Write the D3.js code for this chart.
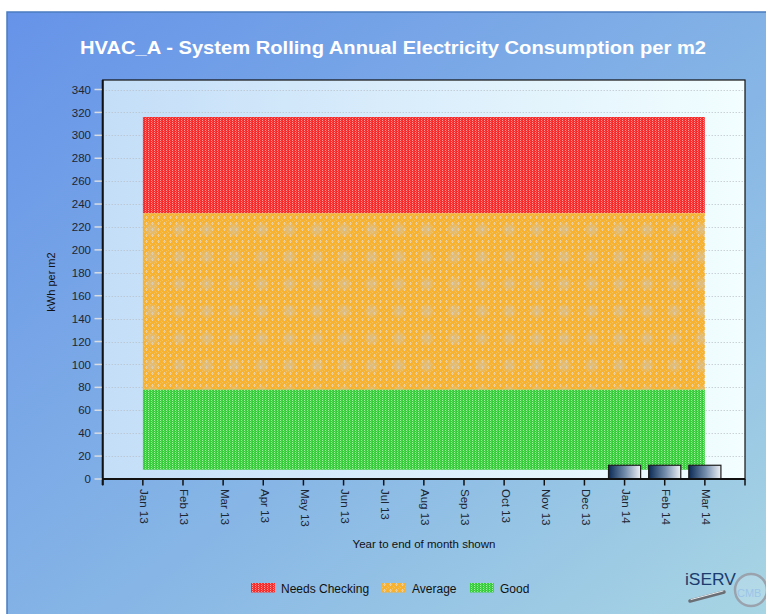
<!DOCTYPE html>
<html>
<head>
<meta charset="utf-8">
<script src="https://cdn.jsdelivr.net/npm/d3@7"></script>
<style>
  html, body { margin: 0; padding: 0; background: #fff; }
  svg { display: block; font-family: "Liberation Sans", Arial, sans-serif; }
</style>
</head>
<body>
<svg id="chart" width="766" height="614"></svg>
<script>
// months on the x axis
const months = ['Jan 13', 'Feb 13', 'Mar 13', 'Apr 13', 'May 13', 'Jun 13', 'Jul 13',
  'Aug 13', 'Sep 13', 'Oct 13', 'Nov 13', 'Dec 13', 'Jan 14', 'Feb 14', 'Mar 14']

// benchmark bands (kWh per m2), one value per month
const goodLow   = [8, 8, 8, 8, 8, 8, 8, 8, 8, 8, 8, 8, 8, 8, 8]
const goodHigh  = [78, 78, 78, 78, 78, 78, 78, 78, 78, 78, 78, 78, 78, 78, 78]
const avgHigh   = [232, 232, 232, 232, 232, 232, 232, 232, 232, 232, 232, 232, 232, 232, 232]
const needsHigh = [316, 316, 316, 316, 316, 316, 316, 316, 316, 316, 316, 316, 316, 316, 316]

// actual rolling consumption (null = no data)
const consumption = [null, null, null, null, null, null, null, null, null, null, null, null, 12, 12, 12]

const yTicks = d3.range(0, 341, 20)

const legendItems = [
  { name: 'Needs Checking', fill: 'url(#patRed)' },
  { name: 'Average', fill: 'url(#patOrange)' },
  { name: 'Good', fill: 'url(#patGreen)' }
]

const svg = d3.select('#chart')
const defs = svg.append('defs')

// background gradients
const bgGrad = defs.append('linearGradient').attr('id', 'bgGrad')
  .attr('x1', 0).attr('y1', 0).attr('x2', 1).attr('y2', 1)
bgGrad.append('stop').attr('offset', 0).attr('stop-color', '#6693e8')
bgGrad.append('stop').attr('offset', 0.55).attr('stop-color', '#86b5e6')
bgGrad.append('stop').attr('offset', 1).attr('stop-color', '#a9d6e3')

const plotGrad = defs.append('linearGradient').attr('id', 'plotGrad')
  .attr('x1', 0).attr('y1', 0).attr('x2', 1).attr('y2', 0)
plotGrad.append('stop').attr('offset', 0).attr('stop-color', '#c4def8')
plotGrad.append('stop').attr('offset', 1).attr('stop-color', '#f2feff')

const barGrad = defs.append('linearGradient').attr('id', 'barGrad')
  .attr('x1', 0).attr('y1', 0).attr('x2', 1).attr('y2', 0)
barGrad.append('stop').attr('offset', 0).attr('stop-color', '#0b2a55')
barGrad.append('stop').attr('offset', 0.5).attr('stop-color', '#6f89a8')
barGrad.append('stop').attr('offset', 1).attr('stop-color', '#eef1f5')

const blobGrad = defs.append('radialGradient').attr('id', 'blobGrad')
blobGrad.append('stop').attr('offset', 0).attr('stop-color', '#c8c8c8').attr('stop-opacity', 0.55)
blobGrad.append('stop').attr('offset', 0.6).attr('stop-color', '#cccac4').attr('stop-opacity', 0.3)
blobGrad.append('stop').attr('offset', 1).attr('stop-color', '#cccac4').attr('stop-opacity', 0)

// dotted hatch patterns
const makePattern = (id, w, h, base, dots) => {
  const p = defs.append('pattern').attr('id', id)
    .attr('patternUnits', 'userSpaceOnUse').attr('width', w).attr('height', h)
  if (base) p.append('rect').attr('width', w).attr('height', h).attr('fill', base)
  dots.forEach(d => p.append('rect').attr('x', d[0]).attr('y', d[1])
    .attr('width', d[2] || 1).attr('height', d[3] || 1).attr('fill', d[4]))
  return p
}
makePattern('patRed', 3, 2, '#f82a2a', [[1, 0, 1, 1, '#ff9c9c'], [2, 1, 1, 1, '#ff5454']])
makePattern('patGreen', 3, 2, '#36cc3a', [[1, 0, 1, 1, '#a6eea6'], [2, 1, 1, 1, '#5ada5c']])
makePattern('patOrange', 6, 6, '#f8b232', [
  [2, 0, 1, 1, '#e8d4ae'], [1, 1, 3, 1, '#ecc98a'], [2, 2, 1, 1, '#e8d4ae'],
  [5, 3, 1, 1, '#e6be78'], [0, 4, 1, 1, '#f4c35e'], [4, 5, 1, 1, '#f4c35e']
])
// larger mottled blobs seen in the orange band
const blobs = defs.append('pattern').attr('id', 'patBlobs')
  .attr('patternUnits', 'userSpaceOnUse').attr('width', 27.5).attr('height', 27.2)
  .attr('x', 138).attr('y', 216)
blobs.append('circle').attr('cx', 13.75).attr('cy', 13.6).attr('r', 8).attr('fill', 'url(#blobGrad)')

// outer panel
svg.append('rect').attr('x', 7).attr('y', 12).attr('width', 766).attr('height', 610)
  .attr('fill', 'url(#bgGrad)').attr('stroke', '#4a7cc0').attr('stroke-width', 1.5)

// title
svg.append('text')
  .attr('x', 393).attr('y', 54)
  .attr('text-anchor', 'middle')
  .attr('fill', '#fff')
  .attr('font-size', 18).attr('font-weight', 'bold')
  .attr('textLength', 626).attr('lengthAdjust', 'spacingAndGlyphs')
  .text('HVAC_A - System Rolling Annual Electricity Consumption per m2')

// plot area
const plotL = 102.7, plotR = 745, plotT = 80, plotB = 479

const x = d3.scaleLinear().domain([0, months.length + 1]).range([plotL, plotR])
const y = d3.scaleLinear().domain([0, 340]).range([plotB, 89.5])

svg.append('rect').attr('x', plotL).attr('y', plotT)
  .attr('width', plotR - plotL).attr('height', plotB - plotT)
  .attr('fill', 'url(#plotGrad)')

// gridlines
svg.append('g').selectAll('line').data(yTicks.filter(d => d > 0)).enter().append('line')
  .attr('x1', plotL).attr('x2', plotR)
  .attr('y1', d => Math.round(y(d)) + 0.5).attr('y2', d => Math.round(y(d)) + 0.5)
  .attr('stroke', '#b8bec6').attr('stroke-dasharray', '1,2')

// bands
const idx = months.map((m, i) => i)
const band = (lo, hi) => d3.area()
  .x(i => x(i + 1))
  .y0(i => y(lo[i]))
  .y1(i => y(hi[i]))(idx)

svg.append('path').attr('d', band(avgHigh, needsHigh)).attr('fill', 'url(#patRed)')
svg.append('path').attr('d', band(goodHigh, avgHigh)).attr('fill', 'url(#patOrange)')
svg.append('path').attr('d', band(goodHigh, avgHigh)).attr('fill', 'url(#patBlobs)')
svg.append('path').attr('d', band(goodLow, goodHigh)).attr('fill', 'url(#patGreen)')

// consumption bars
const barW = 0.8 * (x(1) - x(0))
svg.append('g').selectAll('rect')
  .data(consumption.map((v, i) => ({ v, i })).filter(d => d.v != null))
  .enter().append('rect')
  .attr('x', d => x(d.i + 1) - barW / 2)
  .attr('y', d => y(d.v))
  .attr('width', barW)
  .attr('height', d => y(0) - y(d.v))
  .attr('fill', 'url(#barGrad)')
  .attr('stroke', '#1e1e1e').attr('stroke-width', 1.2)

// frame
svg.append('rect').attr('x', plotL).attr('y', plotT)
  .attr('width', plotR - plotL).attr('height', plotB - plotT)
  .attr('fill', 'none').attr('stroke', '#111').attr('stroke-width', 1.2)
svg.append('line').attr('x1', plotL).attr('x2', plotL).attr('y1', plotT).attr('y2', plotB + 6)
  .attr('stroke', '#111').attr('stroke-width', 2)
svg.append('line').attr('x1', plotL).attr('x2', plotR).attr('y1', plotB).attr('y2', plotB)
  .attr('stroke', '#111').attr('stroke-width', 2)

// y axis ticks and labels
const yAxis = svg.append('g')
yAxis.selectAll('line').data(yTicks).enter().append('line')
  .attr('x1', 94.5).attr('x2', plotL - 1)
  .attr('y1', d => y(d)).attr('y2', d => y(d))
  .attr('stroke', '#d8dde3').attr('stroke-width', 1.5)
yAxis.selectAll('text').data(yTicks).enter().append('text')
  .attr('x', 91).attr('y', d => y(d)).attr('dy', '0.36em')
  .attr('text-anchor', 'end').attr('font-size', 11.5).attr('fill', '#1d2633')
  .text(d => d)

// x axis ticks and labels
const xTickPos = [0].concat(idx.map(i => i + 1), [months.length + 1])
svg.append('g').selectAll('line').data(xTickPos).enter().append('line')
  .attr('x1', d => x(d)).attr('x2', d => x(d))
  .attr('y1', plotB).attr('y2', plotB + 6.5)
  .attr('stroke', '#111').attr('stroke-width', 1.5)
svg.append('g').selectAll('text').data(months).enter().append('text')
  .attr('transform', (d, i) => `translate(${x(i + 1) + 1.5},489) rotate(90)`)
  .attr('dy', '0.35em')
  .attr('font-size', 11.5).attr('fill', '#1d2633')
  .text(d => d)

// axis titles
svg.append('text').attr('x', 424).attr('y', 548).attr('text-anchor', 'middle')
  .attr('font-size', 11.5).attr('fill', '#111')
  .text('Year to end of month shown')
svg.append('text').attr('transform', 'translate(55,282) rotate(-90)')
  .attr('text-anchor', 'middle').attr('font-size', 11).attr('fill', '#111')
  .text('kWh per m2')

// legend
const legendX = [251, 382, 470]
const legend = svg.append('g').selectAll('g').data(legendItems).enter().append('g')
  .attr('transform', (d, i) => `translate(${legendX[i]},583)`)
legend.append('rect').attr('width', 24).attr('height', 9.5).attr('fill', d => d.fill)
legend.append('text').attr('x', 30).attr('y', 9.5)
  .attr('font-size', 12).attr('fill', '#111')
  .text(d => d.name)

// logo
const logo = svg.append('g')
logo.append('line').attr('x1', 724).attr('y1', 592).attr('x2', 690).attr('y2', 601)
  .attr('stroke', '#6a6f76').attr('stroke-width', 3.5).attr('stroke-linecap', 'round')
logo.append('line').attr('x1', 723).attr('y1', 591).attr('x2', 691).attr('y2', 599.5)
  .attr('stroke', '#e8ecf0').attr('stroke-width', 1).attr('stroke-linecap', 'round')
logo.append('circle').attr('cx', 751).attr('cy', 590).attr('r', 16)
  .attr('fill', 'rgba(255,255,255,0.15)').attr('stroke', '#9aa3ad').attr('stroke-width', 2.5)
logo.append('text').attr('x', 737).attr('y', 597).attr('font-size', 11)
  .attr('fill', '#9cc4e8').text('CMB')
logo.append('text').attr('x', 685).attr('y', 584.5).attr('font-size', 16)
  .attr('textLength', 51).attr('lengthAdjust', 'spacingAndGlyphs')
  .attr('fill', '#1b3c6e').text('iSERV')
</script>
</body>
</html>
